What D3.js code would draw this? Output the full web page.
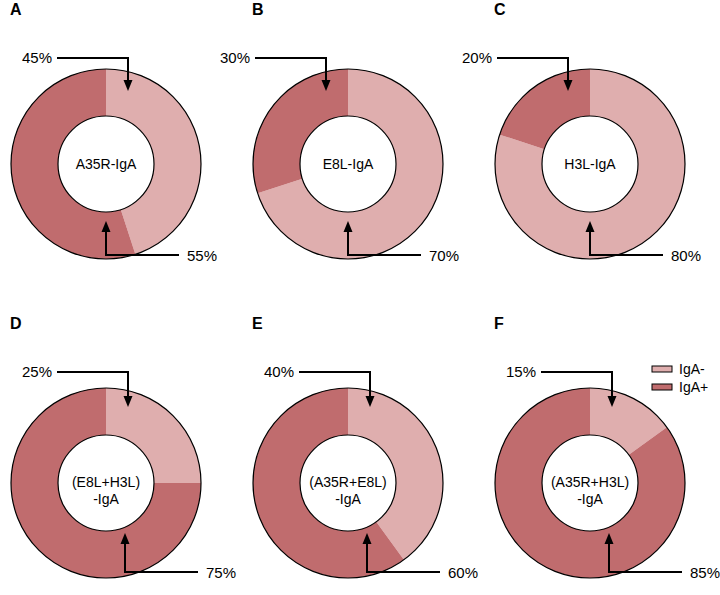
<!DOCTYPE html>
<html><head><meta charset="utf-8">
<script src="https://cdn.jsdelivr.net/npm/d3@7"></script>
<style>body{margin:0;background:#fff}svg{display:block}text{font-family:Arial,"Liberation Sans",sans-serif}</style>
</head><body>
<svg id="c" width="720" height="595"></svg>
<script>
const panelLetters = ["A","B","C","D","E","F"];
const panelNames = [["A35R-IgA"],["E8L-IgA"],["H3L-IgA"],["(E8L+H3L)","-IgA"],["(A35R+E8L)","-IgA"],["(A35R+H3L)","-IgA"]];
const seriesNames = ["IgA-","IgA+"];
const igaNeg = [45,70,80,25,40,15];
const igaPos = [55,30,20,75,60,85];
const colors = ["#dfaeae","#c06c6e"];

const svg = d3.select("#c");
const colX = d3.scalePoint().domain([0,1,2]).range([106,590]);
const rowY = d3.scalePoint().domain([0,1]).range([164,483]);
const color = d3.scaleOrdinal().domain(seriesNames).range(colors);
const pie = d3.pie().sort(null).value(d=>d.v);
const rOut = 95, rIn = 48;
const arc = d3.arc().innerRadius(rIn).outerRadius(rOut);

function arrowHead(g,x,y,dir){ // dir 1 = pointing down, -1 = up
  g.append("path").attr("d",`M${x},${y}L${x-4.5},${y-11*dir}L${x+4.5},${y-11*dir}Z`).attr("fill","#000");
}

panelLetters.forEach((L,i)=>{
  const col=i%3, row=Math.floor(i/3);
  const cx=colX(col), cy=rowY(row);
  const g=svg.append("g");
  g.append("text").attr("x",cx-96).attr("y",row?329:14.5).attr("font-weight","bold").attr("font-size",16).text(L);
  const data=[{k:seriesNames[0],v:igaNeg[i]},{k:seriesNames[1],v:igaPos[i]}];
  const dg=g.append("g").attr("transform",`translate(${cx},${cy})`);
  dg.selectAll("path").data(pie(data)).join("path").attr("d",arc).attr("fill",d=>color(d.data.k));
  dg.append("circle").attr("r",rOut).attr("fill","none").attr("stroke","#000").attr("stroke-width",1.2);
  dg.append("circle").attr("r",rIn).attr("fill","#fff").attr("stroke","#000").attr("stroke-width",1.2);
  const lines=panelNames[i];
  lines.forEach((t,j)=>{
    dg.append("text").attr("x",0).attr("y",lines.length===1?5:4+j*17).attr("text-anchor","middle").attr("font-size",14).text(t);
  });
  // top arrow -> smaller value
  const small=Math.min(igaNeg[i],igaPos[i]), big=Math.max(igaNeg[i],igaPos[i]);
  const side = igaNeg[i]<igaPos[i]?1:-1;
  const ax=cx+22*side;
  const hy=row?cy-111:cy-106, ty=row?cy-76:cy-73;
  g.append("path").attr("d",`M${ax-71},${hy}H${ax}V${ty-8}`).attr("fill","none").attr("stroke","#000").attr("stroke-width",2);
  arrowHead(g,ax,ty,1);
  g.append("text").attr("x",ax-76).attr("y",hy+5).attr("text-anchor","end").attr("font-size",15).text(small+"%");
  // bottom arrow -> larger value
  const bx=cx+(row?19:0);
  const by=row?cy+89:cy+91, bty=row?cy+50:cy+57;
  g.append("path").attr("d",`M${bx},${bty+8}V${by}H${bx+73}`).attr("fill","none").attr("stroke","#000").attr("stroke-width",2);
  arrowHead(g,bx,bty,-1);
  g.append("text").attr("x",bx+81).attr("y",by+5.5).attr("font-size",15).text(big+"%");
});

// legend
const lg=svg.append("g");
seriesNames.forEach((s,j)=>{
  lg.append("rect").attr("x",652).attr("y",366+j*18).attr("width",20).attr("height",6).attr("fill",color(s)).attr("stroke","#000").attr("stroke-width",1);
  lg.append("text").attr("x",679).attr("y",373.5+j*18).attr("font-size",14).text(s);
});
</script>
</body></html>
